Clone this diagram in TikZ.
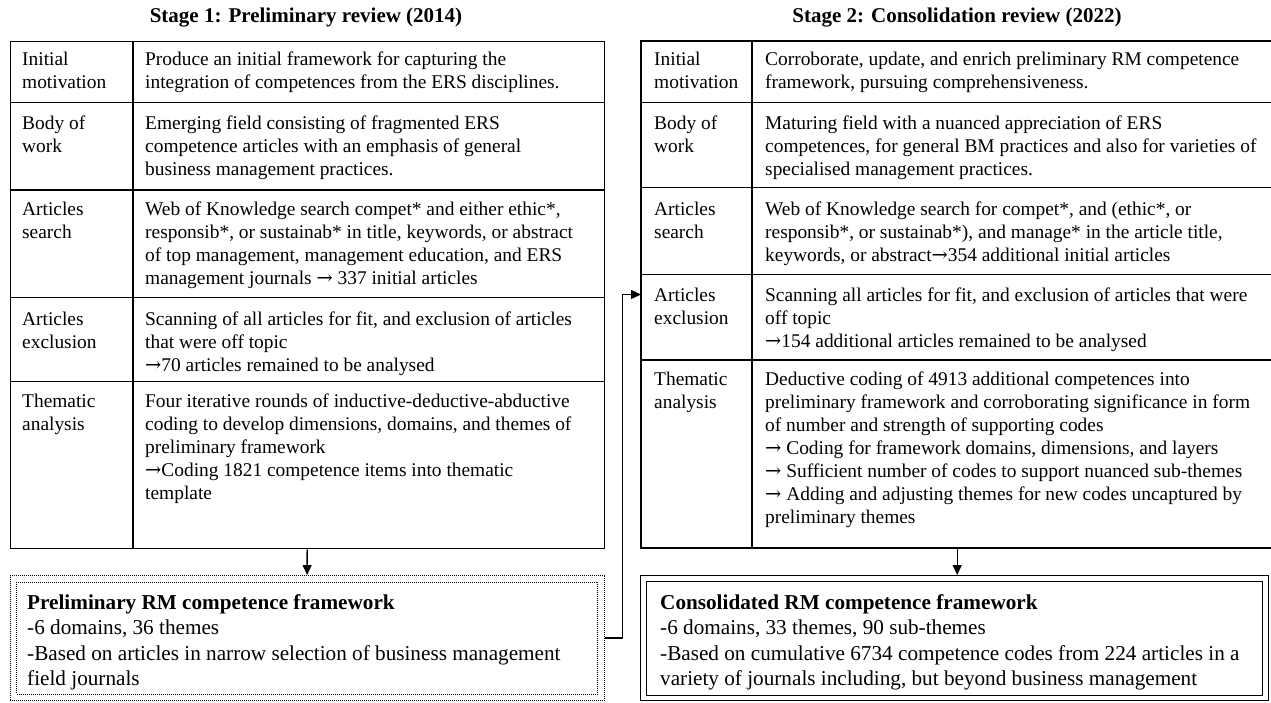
\documentclass[tikz,border=0pt]{standalone}
\usepackage{fontspec}
\setmainfont{Liberation Serif}
\newfontfamily\arrowfont{DejaVu Serif}
\newcommand{\rarr}{{\arrowfont →}}
\usetikzlibrary{arrows.meta}
\begin{document}
\begin{tikzpicture}[x=1pt,y=-1pt,
  cell/.style={anchor=north west, inner sep=0pt, align=left, font=\fontsize{19.4}{23}\selectfont},
  fwtext/.style={anchor=north west, inner sep=0pt, align=left, font=\fontsize{21.2}{25.6}\selectfont},
  ttl/.style={font=\bfseries\fontsize{21}{24}\selectfont, inner sep=0pt},
  frame/.style={draw, line width=1.3pt, anchor=north west, inner sep=0pt},
  ghost/.style={anchor=north west, inner sep=0pt},
  grid/.style={line width=1.3pt},
  dotbox/.style={draw, line width=1.2pt, dash pattern=on 1pt off 1pt, anchor=north west, inner sep=0pt},
  dblbox/.style={draw, line width=1.3pt, anchor=north west, inner sep=0pt},
  conn/.style={line width=1.3pt, -{Triangle[length=10pt,width=9pt]}}
]
\useasboundingbox (0,0) rectangle (1271,702);

% titles
\node[ttl] (title1) at (306,18) {Stage 1: Preliminary review (2014)};
\node[ttl] (title2) at (957,18) {Stage 2: Consolidation review (2022)};

% ---------- left table ----------
\node[frame, minimum width=594pt, minimum height=507pt] (t1) at (9.5,41) {};
\draw[grid] (133,41) -- (133,548);
\foreach \yy in {102.5,190,297.5,381.5} \draw[grid] (9.5,\yy) -- (603.5,\yy);

\node[cell] (l1a) at (22,52) {Initial\\motivation};
\node[cell] (l1b) at (145,52) {Produce an initial framework for capturing the\\integration of competences from the ERS disciplines.};
\node[cell] (l2a) at (22,116) {Body of\\work};
\node[cell] (l2b) at (145,116) {Emerging field consisting of fragmented ERS\\competence articles with an emphasis of general\\business management practices.};
\node[cell] (l3a) at (22,202) {Articles\\search};
\node[cell] (l3b) at (145,202) {Web of Knowledge search compet* and either ethic*,\\responsib*, or sustainab* in title, keywords, or abstract\\of top management, management education, and ERS\\management journals \rarr{} 337 initial articles};
\node[cell] (l4a) at (22,312) {Articles\\exclusion};
\node[cell] (l4b) at (145,312) {Scanning of all articles for fit, and exclusion of articles\\that were off topic\\\rarr70 articles remained to be analysed};
\node[cell] (l5a) at (22,394) {Thematic\\analysis};
\node[cell] (l5b) at (145,394) {Four iterative rounds of inductive-deductive-abductive\\coding to develop dimensions, domains, and themes of\\preliminary framework\\\rarr Coding 1821 competence items into thematic\\template};

% ---------- right table ----------
\node[ghost, minimum width=632pt, minimum height=507pt] (t2) at (641,41) {};
\draw[grid] (1271,41) -- (641,41) -- (641,548) -- (1271,548);
\draw[grid] (752,41) -- (752,548);
\foreach \yy in {102.5,187.5,274.5,360} \draw[grid] (641,\yy) -- (1271,\yy);

\node[cell] (r1a) at (654,52) {Initial\\motivation};
\node[cell] (r1b) at (765,52) {Corroborate, update, and enrich preliminary RM competence\\framework, pursuing comprehensiveness.};
\node[cell] (r2a) at (654,116) {Body of\\work};
\node[cell] (r2b) at (765,116) {Maturing field with a nuanced appreciation of ERS\\competences, for general BM practices and also for varieties of\\specialised management practices.};
\node[cell] (r3a) at (654,202) {Articles\\search};
\node[cell] (r3b) at (765,202) {Web of Knowledge search for compet*, and (ethic*, or\\responsib*, or sustainab*), and manage* in the article title,\\keywords, or abstract\rarr354 additional initial articles};
\node[cell] (r4a) at (654,288) {Articles\\exclusion};
\node[cell] (r4b) at (765,288) {Scanning all articles for fit, and exclusion of articles that were\\off topic\\\rarr154 additional articles remained to be analysed};
\node[cell] (r5a) at (654,372) {Thematic\\analysis};
\node[cell] (r5b) at (765,372) {Deductive coding of 4913 additional competences into\\preliminary framework and corroborating significance in form\\of number and strength of supporting codes\\\rarr{} Coding for framework domains, dimensions, and layers\\\rarr{} Sufficient number of codes to support nuanced sub-themes\\\rarr{} Adding and adjusting themes for new codes uncaptured by\\preliminary themes};
\coordinate (t2in) at (641,294.5);

% ---------- framework boxes ----------
\node[dotbox, minimum width=594pt, minimum height=125pt] (f1) at (9.5,575) {};
\node[dotbox, minimum width=581pt, minimum height=112pt] (f1i) at (16,581.5) {};
\node[fwtext] (f1t) at (27,594) {\textbf{Preliminary RM competence framework}\\-6 domains, 36 themes\\-Based on articles in narrow selection of business management\\field journals};

\node[dblbox, minimum width=628pt, minimum height=125pt] (f2) at (640,575) {};
\node[dblbox, minimum width=616pt, minimum height=114pt] (f2i) at (646,581) {};
\node[fwtext] (f2t) at (660,594) {\textbf{Consolidated RM competence framework}\\-6 domains, 33 themes, 90 sub-themes\\-Based on cumulative 6734 competence codes from 224 articles in a\\variety of journals including, but beyond business management};

% ---------- connectors ----------
\draw[conn] (t1.south) -- (f1.north);
\draw[conn] (t2.south) -- (t2.south |- f2.north);
\draw[conn] (f1.east) -- ++(18,0) |- (t2in);
\end{tikzpicture}
\end{document}
